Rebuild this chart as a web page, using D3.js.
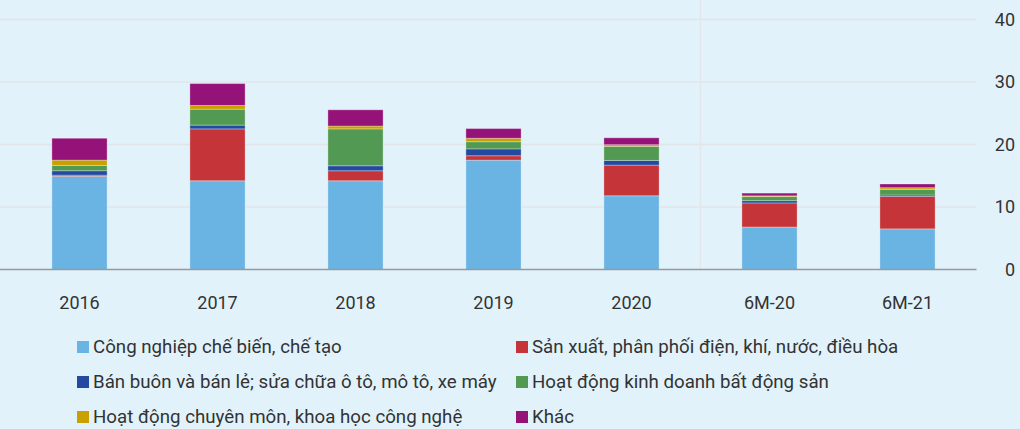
<!DOCTYPE html>
<html>
<head>
<meta charset="utf-8">
<script src="https://cdn.jsdelivr.net/npm/d3@7"></script>
<style>
  html, body { margin: 0; padding: 0; background: #E1F2FB; }
  body { width: 1020px; height: 429px; overflow: hidden; font-family: Roboto, "Noto Sans", sans-serif; }
  text { fill: #333; }
</style>
</head>
<body>
<div id="chart"></div>
<script>
/**
 * DATA
 * */
const periods = ["2016", "2017", "2018", "2019", "2020", "6M-20", "6M-21"];
const seriesNames = [
  "Công nghiệp chế biến, chế tạo",
  "Sản xuất, phân phối điện, khí, nước, điều hòa",
  "Bán buôn và bán lẻ; sửa chữa ô tô, mô tô, xe máy",
  "Hoạt động kinh doanh bất động sản",
  "Hoạt động chuyên môn, khoa học công nghệ",
  "Khác"
];
const cheBien   = [14.9, 14.2, 14.2, 17.5, 11.8, 6.8, 6.5];
const dienKhi   = [0.2, 8.3, 1.6, 0.7, 4.9, 3.85, 5.2];
const banBuon   = [0.7, 0.6, 0.8, 1.1, 0.75, 0.37, 0.22];
const batDongSan = [0.85, 2.55, 5.9, 1.15, 2.25, 0.65, 0.9];
const chuyenMon = [0.85, 0.6, 0.45, 0.55, 0.27, 0.12, 0.27];
const khac      = [3.5, 3.5, 2.6, 1.55, 1.1, 0.43, 0.59];
const yTicks = [0, 10, 20, 30, 40];

const colors = ["#69B4E3", "#C43439", "#2349A0", "#529A53", "#C9A000", "#951279"];

/**
 * LAYOUT
 * */
const width = 1020, height = 429;
const plot = { left: 10.5, right: 976.5, top: 19.5, bottom: 269.5 };

const svg = d3.select("#chart").append("svg")
  .attr("width", width)
  .attr("height", height);

// build rows for stacking
const allSeries = [cheBien, dienKhi, banBuon, batDongSan, chuyenMon, khac];
const rows = periods.map((p, i) => {
  const r = { period: p };
  seriesNames.forEach((s, j) => r[s] = allSeries[j][i]);
  return r;
});
const stacked = d3.stack().keys(seriesNames)(rows);

const x = d3.scaleBand()
  .domain(periods)
  .range([plot.left, plot.right])
  .paddingInner(0.6)
  .paddingOuter(0.3);

const y = d3.scaleLinear()
  .domain([0, 40])
  .range([plot.bottom, plot.top]);

// gridlines
svg.append("g")
  .selectAll("line")
  .data(yTicks.filter(d => d > 0))
  .join("line")
  .attr("x1", 0)
  .attr("x2", plot.right)
  .attr("y1", d => y(d))
  .attr("y2", d => y(d))
  .attr("stroke", "#E2E4E8")
  .attr("stroke-width", 1.5);

// divider between years and half-years
svg.append("line")
  .attr("x1", x("6M-20") - x.step() * x.paddingInner() / 2)
  .attr("x2", x("6M-20") - x.step() * x.paddingInner() / 2)
  .attr("y1", 0)
  .attr("y2", plot.bottom)
  .attr("stroke", "#E6E6EA")
  .attr("stroke-width", 1.5);

// y labels on the right
svg.append("g")
  .selectAll("text")
  .data(yTicks)
  .join("text")
  .attr("x", 1015)
  .attr("y", d => y(d))
  .attr("dy", "0.35em")
  .attr("text-anchor", "end")
  .style("font-size", "18px")
  .text(d => d);

// bars
svg.append("g")
  .selectAll("g")
  .data(stacked)
  .join("g")
  .attr("fill", (d, i) => colors[i])
  .selectAll("rect")
  .data(d => d)
  .join("rect")
  .attr("x", d => x(d.data.period))
  .attr("width", x.bandwidth())
  .attr("y", d => y(d[1]))
  .attr("height", d => y(d[0]) - y(d[1]))
  .attr("stroke", "rgba(255,255,255,0.3)")
  .attr("stroke-width", 1);

// baseline
svg.append("line")
  .attr("x1", 0)
  .attr("x2", plot.right)
  .attr("y1", plot.bottom)
  .attr("y2", plot.bottom)
  .attr("stroke", "#999")
  .attr("stroke-width", 1.5);

// x labels
svg.append("g")
  .selectAll("text")
  .data(periods)
  .join("text")
  .attr("x", d => x(d) + x.bandwidth() / 2)
  .attr("y", 309)
  .attr("text-anchor", "middle")
  .style("font-size", "18px")
  .text(d => d);

// legend, 2 columns
const legend = svg.append("g")
  .selectAll("g")
  .data(seriesNames)
  .join("g")
  .attr("transform", (d, i) => `translate(${i % 2 === 0 ? 77 : 516}, ${346.5 + Math.floor(i / 2) * 35})`);

legend.append("rect")
  .attr("x", 0)
  .attr("y", -5.5)
  .attr("width", 12)
  .attr("height", 12)
  .attr("fill", (d, i) => colors[i]);

legend.append("text")
  .attr("x", 16)
  .attr("y", 0)
  .attr("dy", "0.35em")
  .style("font-size", "18.7px")
  .text(d => d);
</script>
</body>
</html>
